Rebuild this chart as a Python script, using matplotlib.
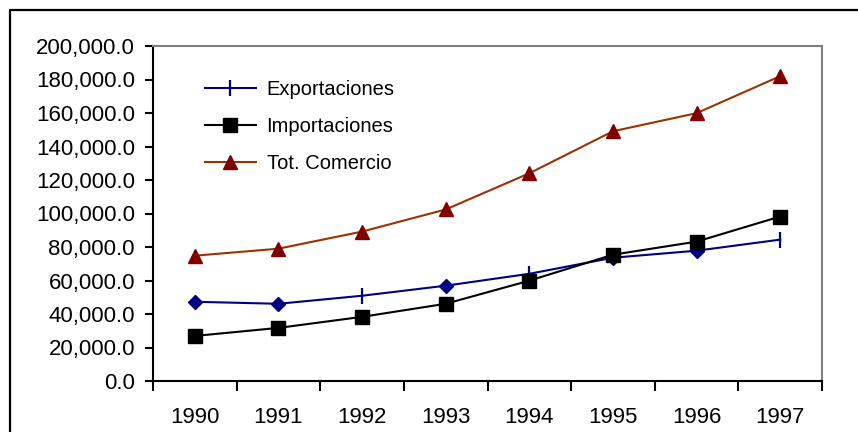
import matplotlib.pyplot as plt
from matplotlib.lines import Line2D

plt.rcParams['font.family'] = ['Liberation Sans', 'DejaVu Sans']

# datos
anios = ['1990', '1991', '1992', '1993', '1994', '1995', '1996', '1997']
exportaciones = [47300, 46100, 50900, 56900, 64000, 73600, 77800, 84400]
importaciones = [26900, 31700, 38300, 46100, 59900, 75400, 83200, 98200]
tot_comercio = [74800, 79000, 89200, 102400, 124000, 149100, 159900, 182000]
# marcador de cada punto de Exportaciones (en el original se mezclan)
marcas_exp = ['D', 'D', '|', 'D', '|', 'D', 'D', '|']

fig = plt.figure(figsize=(8.58, 4.32), dpi=100)
ax = fig.add_axes([153/858, 1-381/432, 669/858, 335/432])

x = list(range(len(anios)))

# lineas
ax.plot(x, tot_comercio, color='#993300', linewidth=1.5, marker='^',
        markersize=10, markerfacecolor='#800000', markeredgecolor='#800000')
ax.plot(x, exportaciones, color='#000080', linewidth=1.5)
for xi, yi, m in zip(x, exportaciones, marcas_exp):
    if m == 'D':
        ax.plot(xi, yi, marker='D', markersize=7.5, color='#000080')
    else:
        ax.plot(xi, yi, marker='|', markersize=12, markeredgewidth=1.6, color='#000080')
ax.plot(x, importaciones, color='black', linewidth=1.5, marker='s',
        markersize=10, markerfacecolor='black')

# ejes
ax.set_ylim(0, 200000)
ax.set_xlim(-0.5, len(anios) - 0.5)
ax.set_yticks(range(0, 200001, 20000))
ax.set_yticklabels(['{:,.1f}'.format(v) for v in range(0, 200001, 20000)], fontsize=16)
ax.set_xticks([i - 0.5 for i in range(len(anios) + 1)])
ax.set_xticklabels([])
ax.set_xticks(x, minor=True)
ax.set_xticklabels(anios, minor=True, fontsize=16)
ax.tick_params(axis='x', which='minor', length=0, pad=19)
ax.tick_params(axis='x', which='major', length=7, width=1.5, direction='out')
ax.tick_params(axis='y', length=6, width=1.5, direction='out', pad=7)

ax.spines['left'].set_linewidth(1.5)
ax.spines['bottom'].set_linewidth(1.5)
ax.spines['top'].set_color('#808080')
ax.spines['right'].set_color('#808080')
ax.spines['top'].set_linewidth(1.5)
ax.spines['right'].set_linewidth(1.5)

# leyenda
handles = [
    Line2D([], [], color='#000080', linewidth=1.5, marker='|', markersize=12, markeredgewidth=1.6),
    Line2D([], [], color='black', linewidth=1.5, marker='s', markersize=10),
    Line2D([], [], color='#993300', linewidth=1.5, marker='^', markersize=10,
           markerfacecolor='#800000', markeredgecolor='#800000'),
]
ax.legend(handles, ['Exportaciones', 'Importaciones', 'Tot. Comercio'],
          loc='upper left', bbox_to_anchor=(0.078, 0.899), frameon=False,
          fontsize=14.5, handlelength=2.5, handletextpad=0.55, labelspacing=0.9,
          borderpad=0, borderaxespad=0)

# marco de la figura
fig.add_artist(Line2D([10/858, 10/858, 1.0], [0, 1-9.5/432, 1-9.5/432],
                      color='black', linewidth=1.6, transform=fig.transFigure))

fig.savefig('out.png', dpi=100)
